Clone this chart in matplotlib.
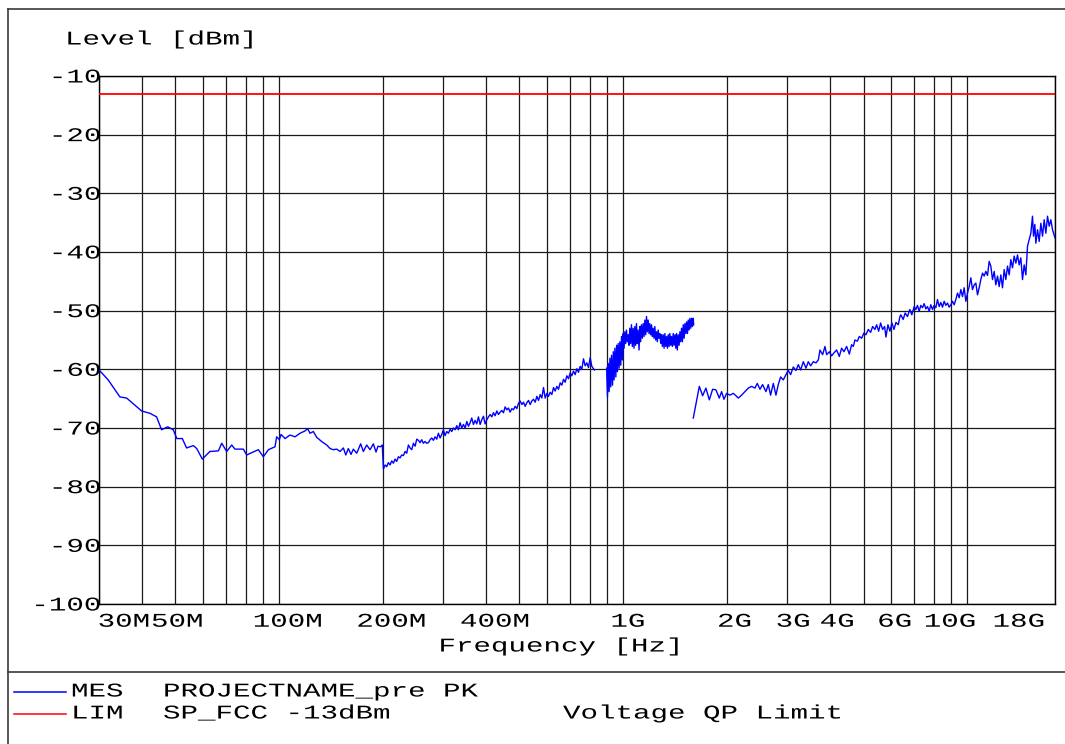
import numpy as np
import matplotlib
matplotlib.use("Agg")
import matplotlib.pyplot as plt
import matplotlib.patheffects as pe
from matplotlib.transforms import Affine2D, ScaledTranslation
from matplotlib.lines import Line2D
from matplotlib.ticker import LogLocator, NullFormatter, FixedLocator

# ---------------- data (frequency in MHz, level in dBm) ----------------
seg_a_freq = [30, 31.9, 34.5, 36.1, 39.9, 42.2, 44.1, 45.6, 47.5, 49.3, 50.5, 52.4, 53.9, 56.4, 57.7,
              59.9, 63.0, 66.7, 68.2, 70.5, 72.9, 74.5, 78.8, 80.6, 87.1, 90.1, 93.2, 97.4, 98.5, 100.3,
              101.4, 104.2, 107.7, 111.4, 115.1, 119.1, 121.2, 123.1, 125.9, 128.8, 133.1, 137.7, 140.8,
              143.9, 147.2, 150.5, 153.9, 156.4, 159.1, 162.0, 164.5, 168.3, 172.8, 175.9, 179.9, 184.0,
              188.1, 191.5, 194.1, 197.3, 199.7,
              201.2, 203.5, 205.7, 208.0, 210.4, 212.7, 215.1, 217.5, 219.9, 222.4, 224.9, 227.4, 230.0,
              232.6, 235.2, 237.8, 240.5, 243.2, 245.9, 248.7, 251.5, 254.3, 257.1, 260.0, 262.9, 265.9,
              268.9, 271.9, 274.9, 278.0, 281.1, 284.3, 287.5, 290.7, 294.0, 297.3, 300.6, 304.0, 307.4,
              310.9, 314.4, 317.9, 321.5, 325.1, 328.7, 332.4, 336.1, 339.9, 343.7, 347.6, 351.5, 355.4,
              359.4, 363.4, 367.5, 371.6, 375.8, 380.0, 384.3, 388.6, 393.0, 397.4, 401.9, 406.4, 411.0,
              415.6, 420.2, 424.9, 429.7, 434.5, 439.4, 444.3, 449.3, 454.3, 459.4, 464.6, 469.8, 475.1,
              480.4, 485.8, 491.3, 496.8, 502.4, 508.0, 513.7, 519.5, 525.3, 531.2, 537.2, 543.2, 549.3,
              555.5, 561.7, 568.0, 574.4, 580.8, 587.3, 593.9, 600.6, 607.3, 614.1, 621.0, 628.0, 635.0,
              642.1, 649.3, 656.6, 664.0, 671.4, 678.9, 686.5, 694.2, 702.0, 709.9, 717.8, 725.9, 734.0,
              742.2, 750.5, 759.0, 767.5, 776.1, 784.8, 793.6, 802.5, 811.5, 820.6, 826.1]
seg_a_level = [-60.1, -61.8, -64.7, -64.9, -67.1, -67.5, -68.1, -70.3, -69.8, -70.3, -71.8, -71.8, -73.4,
               -73.0, -73.5, -75.3, -74.0, -73.9, -72.6, -74.0, -72.9, -73.6, -73.6, -74.6, -73.7, -74.9,
               -73.7, -73.2, -71.5, -72.0, -71.1, -71.8, -71.2, -71.5, -70.9, -70.5, -70.1, -70.9, -70.6,
               -71.6, -72.3, -72.9, -73.5, -73.7, -73.6, -74.0, -73.4, -74.6, -73.5, -74.5, -73.6, -74.3,
               -72.7, -74.0, -72.9, -73.7, -72.7, -74.1, -73.1, -73.2, -72.9,
               -77.0, -76.3, -76.6, -75.9, -76.3, -75.6, -76.0, -75.3, -75.7, -74.9, -75.1, -74.6, -74.7,
               -74.0, -74.3, -72.9, -73.4, -73.7, -72.6, -73.1, -71.9, -72.1, -72.5, -72.0, -72.6, -72.3,
               -72.6, -72.5, -72.0, -71.7, -72.1, -71.5, -71.9, -70.9, -71.7, -71.1, -70.3, -71.3, -70.6,
               -70.9, -70.2, -70.6, -70.0, -70.3, -69.6, -70.3, -69.1, -70.0, -69.4, -70.0, -68.9, -69.7,
               -69.1, -68.3, -69.4, -68.7, -69.3, -68.1, -69.4, -68.6, -68.0, -69.3, -68.6, -68.1, -67.7,
               -68.1, -67.4, -67.9, -67.1, -67.7, -67.3, -67.0, -67.4, -66.4, -66.9, -66.6, -67.3, -66.7,
               -66.9, -66.3, -66.7, -65.8, -65.4, -66.0, -65.6, -66.3, -65.7, -65.3, -66.0, -65.4, -65.1,
               -65.6, -64.6, -65.3, -64.3, -64.9, -63.1, -64.9, -64.1, -64.6, -63.9, -64.3, -63.1, -63.7,
               -62.9, -63.4, -62.3, -62.7, -61.7, -62.2, -61.1, -61.6, -60.6, -61.1, -60.3, -60.9, -59.9,
               -60.5, -59.5, -60.0, -58.2, -59.4, -58.9, -59.7, -58.0, -59.5, -59.9, -60.1]

seg_b_freq = [896, 901, 906, 911, 916, 921, 926, 932, 937, 942, 947, 953, 958, 963, 968, 974, 979, 985,
              990, 996, 1001, 1007, 1012, 1018, 1023, 1029, 1035, 1041, 1046, 1052, 1058, 1064, 1070,
              1076, 1082, 1088, 1094, 1100, 1106, 1113, 1119, 1125, 1131, 1138, 1144, 1151, 1157, 1164,
              1170, 1177, 1183, 1190, 1196, 1203, 1210, 1217, 1223, 1230, 1237, 1244, 1251, 1258, 1265,
              1272, 1279, 1287, 1294, 1301, 1308, 1316, 1323, 1331, 1338, 1346, 1353, 1361, 1368, 1376,
              1383, 1391, 1399, 1407, 1415, 1423, 1430, 1438, 1446, 1455, 1463, 1471, 1479, 1488, 1496,
              1505, 1513, 1522, 1530, 1539, 1547, 1556, 1564, 1573, 1582, 1591, 1600, 1604]
seg_b_level = [-59.8, -64.7, -59.0, -63.8, -58.1, -63.0, -57.6, -62.7, -57.0, -61.8, -56.4, -61.3, -55.9,
               -60.4, -55.6, -59.8, -55.3, -59.3, -54.4, -58.4, -53.9, -56.4, -53.6, -55.6, -53.3, -55.3,
               -54.1, -55.9, -53.0, -55.6, -52.4, -56.1, -53.0, -56.4, -52.7, -55.9, -52.2, -55.6, -53.3,
               -56.7, -52.7, -55.3, -52.4, -54.7, -52.2, -54.4, -51.6, -54.1, -51.0, -53.6, -51.6, -53.9,
               -52.2, -54.1, -52.4, -54.4, -53.0, -54.7, -52.7, -55.0, -53.6, -55.3, -53.3, -54.7, -53.9,
               -55.6, -54.1, -56.1, -54.1, -56.4, -53.9, -56.1, -54.4, -56.4, -54.1, -56.1, -53.9, -55.9,
               -54.4, -56.1, -53.9, -55.9, -54.1, -56.4, -53.9, -56.7, -54.1, -55.9, -53.6, -55.3, -53.0,
               -55.3, -52.4, -54.7, -52.2, -53.9, -51.9, -53.9, -51.6, -53.3, -51.3, -53.0, -51.3, -52.7,
               -51.3, -52.4]

seg_c_freq = [1600, 1666, 1703, 1741, 1781, 1821, 1862, 1904, 1934, 1964, 2000, 2045, 2091, 2129, 2162,
              2211, 2261, 2312, 2364, 2417, 2455, 2500, 2544, 2602, 2643, 2684, 2733, 2782, 2826, 2870,
              2922, 2975, 3021, 3069, 3124, 3181, 3231, 3282, 3341, 3401, 3454, 3509, 3572, 3636, 3694,
              3735, 3802, 3862, 3906, 3976, 4038, 4101, 4175, 4250, 4317, 4385, 4464, 4545, 4616, 4668,
              4720, 4795, 4859, 4936, 5013, 5081, 5161, 5242, 5312, 5396, 5457, 5530, 5604, 5680, 5756,
              5808, 5886, 5965, 6046, 6127, 6210, 6308, 6378, 6415, 6517, 6604, 6708, 6814, 6905, 7014,
              7093, 7172, 7252, 7334, 7416, 7499, 7583, 7669, 7755, 7842, 7930, 8019, 8109, 8200, 8292,
              8385, 8479, 8574, 8670, 8767, 8866, 8965, 9066, 9167, 9270, 9374, 9479, 9586, 9693, 9802,
              9912, 10023, 10135, 10249, 10364, 10480, 10598, 10717, 10837, 10958, 11081, 11206, 11331,
              11458, 11587, 11716, 11848, 11981, 12115, 12251, 12388, 12527, 12668, 12810, 12954, 13099,
              13246, 13395, 13545, 13697, 13851, 14006, 14163, 14322, 14483, 14645, 14810, 14976, 15144,
              15314, 15485, 15590, 15730, 15835, 16013, 16192, 16374, 16558, 16744, 16931, 17121, 17313,
              17507, 17704, 18000]
seg_c_level = [-68.3, -62.9, -64.5, -63.2, -65.2, -63.4, -63.5, -64.9, -63.8, -65.1, -64.1, -64.4, -64.1,
               -64.5, -64.9, -64.4, -63.8, -63.2, -62.9, -63.2, -62.4, -63.4, -62.6, -63.8, -62.6, -64.4,
               -62.4, -64.4, -62.6, -61.3, -61.8, -60.9, -60.2, -60.9, -59.6, -60.2, -59.2, -60.1, -58.7,
               -59.8, -58.7, -59.4, -58.7, -58.9, -58.4, -56.7, -57.5, -56.1, -57.5, -57.0, -57.7, -57.2,
               -56.7, -57.8, -56.4, -57.0, -56.1, -57.4, -55.8, -56.1, -55.0, -55.2, -54.4, -54.7, -53.8,
               -54.1, -53.2, -53.7, -52.7, -53.2, -52.4, -53.5, -52.1, -53.2, -52.7, -54.5, -52.4, -53.5,
               -52.1, -53.2, -52.0, -52.4, -51.0, -50.7, -51.5, -50.4, -51.0, -49.8, -50.7, -49.3, -49.8,
               -49.1, -50.1, -49.1, -49.5, -48.8, -49.7, -49.3, -50.1, -49.0, -49.8, -49.1, -49.5, -48.1,
               -49.3, -48.6, -49.4, -48.4, -49.1, -48.7, -49.4, -49.0, -48.4, -49.0, -48.1, -47.0, -47.8,
               -46.4, -47.6, -46.1, -48.4, -47.0, -45.9, -44.4, -46.4, -45.6, -45.3, -47.3, -46.1, -44.7,
               -43.6, -44.1, -43.3, -44.0, -41.6, -42.4, -44.7, -43.3, -45.6, -44.1, -45.9, -43.9, -46.1,
               -43.0, -44.7, -42.4, -43.9, -41.3, -42.7, -40.7, -41.9, -40.5, -42.2, -41.0, -44.7, -42.2,
               -43.9, -39.0, -37.9, -36.8, -33.9, -37.3, -35.3, -38.5, -36.2, -38.2, -35.1, -37.3, -34.5,
               -36.8, -33.9, -35.6, -34.5, -36.2, -37.6]

limit_freq = [30, 18000]
limit_level = [-13, -13]

x_tick_freqs = [30, 50, 100, 200, 400, 1000, 2000, 3000, 4000, 6000, 10000, 18000]
x_tick_labels = ["30M", "50M", "100M", "200M", "400M", "1G", "2G", "3G", "4G", "6G", "10G", "18G"]
y_ticks = [-10, -20, -30, -40, -50, -60, -70, -80, -90, -100]
y_tick_labels = ["-10", "-20", "-30", "-40", "-50", "-60", "-70", "-80", "-90", "-100"]

# ---------------- style ----------------
FONT = "Liberation Mono"
FS = 14
SX = 1.5
x_label_dx = [25, 2, 9, 9, 9, 5, 8, 6, 7, 4, -17, -36]   # pixel shifts of x tick labels


class StretchX(pe.AbstractPathEffect):
    """Widen glyphs horizontally (the reference uses a wide monospace font)."""
    def __init__(self, sx, anchor="left"):
        super().__init__()
        self._sx = sx
        self._anchor = anchor

    def draw_path(self, renderer, gc, tpath, affine, rgbFace=None):
        ext = tpath.get_extents(affine)
        if self._anchor == "center":
            xc = 0.5 * (ext.x0 + ext.x1)
        elif self._anchor == "right":
            xc = ext.x1
        else:
            xc = affine.get_matrix()[0, 2]
        tr = affine + Affine2D().translate(-xc, 0).scale(self._sx, 1.0).translate(xc, 0)
        renderer.draw_path(gc, tpath, tr, rgbFace)


W, H = 1065, 744
fig = plt.figure(figsize=(W / 100, H / 100), dpi=100)
fig.patch.set_facecolor("white")

L, R, T, B = 99, 1055, 76, 604
ax = fig.add_axes([L / W, 1 - B / H, (R - L) / W, (B - T) / H])
ax.set_xscale("log")
ax.set_xlim(30, 18000)
ax.set_ylim(-100, -10)

ax.xaxis.set_minor_locator(LogLocator(base=10, subs=np.arange(1, 10), numticks=30))
ax.xaxis.set_minor_formatter(NullFormatter())
ax.grid(True, which="both", axis="x", color="#1a1a1a", lw=0.9)
ax.grid(True, which="major", axis="y", color="#1a1a1a", lw=0.9)
ax.set_axisbelow(True)
for s in ax.spines.values():
    s.set_color("black")
    s.set_linewidth(1.0)

ax.tick_params(axis="both", which="both", length=0)
ax.tick_params(axis="x", pad=7)
ax.tick_params(axis="y", pad=-1.5)

ax.set_xticks(x_tick_freqs, labels=x_tick_labels, fontfamily=FONT, fontsize=FS)
ax.set_yticks(y_ticks, labels=y_tick_labels, fontfamily=FONT, fontsize=FS)

for lab, dx in zip(ax.get_xticklabels(), x_label_dx):
    lab.set_transform(lab.get_transform() + ScaledTranslation(dx / 100, 0, fig.dpi_scale_trans))
    lab.set_path_effects([StretchX(SX, "center")])
for lab in ax.get_yticklabels():
    lab.set_path_effects([StretchX(SX, "right")])

# traces
ax.plot(limit_freq, limit_level, color="#ff0000", lw=1.3, zorder=3)
for fr, lv in ((seg_a_freq, seg_a_level), (seg_b_freq, seg_b_level), (seg_c_freq, seg_c_level)):
    ax.plot(fr, lv, color="#0000ff", lw=1.0, zorder=4)

# axis titles
fig.text(65 / W, 1 - 40 / H, "Level [dBm]", fontfamily=FONT, fontsize=FS, ha="left", va="center",
         path_effects=[StretchX(SX, "left")])
fig.text(561 / W, 1 - 647 / H, "Frequency [Hz]", fontfamily=FONT, fontsize=FS, ha="center", va="center",
         path_effects=[StretchX(SX, "center")])

# frame lines
fc = "#3a3a3a"
fig.add_artist(Line2D([8 / W, 8 / W], [0, 1 - 9 / H], color=fc, lw=1.2))
fig.add_artist(Line2D([8 / W, 1], [1 - 9 / H, 1 - 9 / H], color=fc, lw=1.2))
fig.add_artist(Line2D([8 / W, 1], [1 - 672 / H, 1 - 672 / H], color=fc, lw=1.2))

# legend block
rows = [(692, "#0000ff", "MES", "PROJECTNAME_pre PK", ""),
        (714, "#ff0000", "LIM", "SP_FCC -13dBm", "Voltage QP Limit")]
for y, col, a, b, c in rows:
    yy = 1 - y / H
    fig.add_artist(Line2D([14 / W, 66 / W], [yy, yy], color=col, lw=1.1))
    fig.text(71 / W, yy, a, fontfamily=FONT, fontsize=FS, ha="left", va="center",
             path_effects=[StretchX(SX, "left")])
    fig.text(163 / W, yy, b, fontfamily=FONT, fontsize=FS, ha="left", va="center",
             path_effects=[StretchX(SX, "left")])
    if c:
        fig.text(563 / W, yy, c, fontfamily=FONT, fontsize=FS, ha="left", va="center",
                 path_effects=[StretchX(SX, "left")])

fig.savefig("out.png", dpi=100)
